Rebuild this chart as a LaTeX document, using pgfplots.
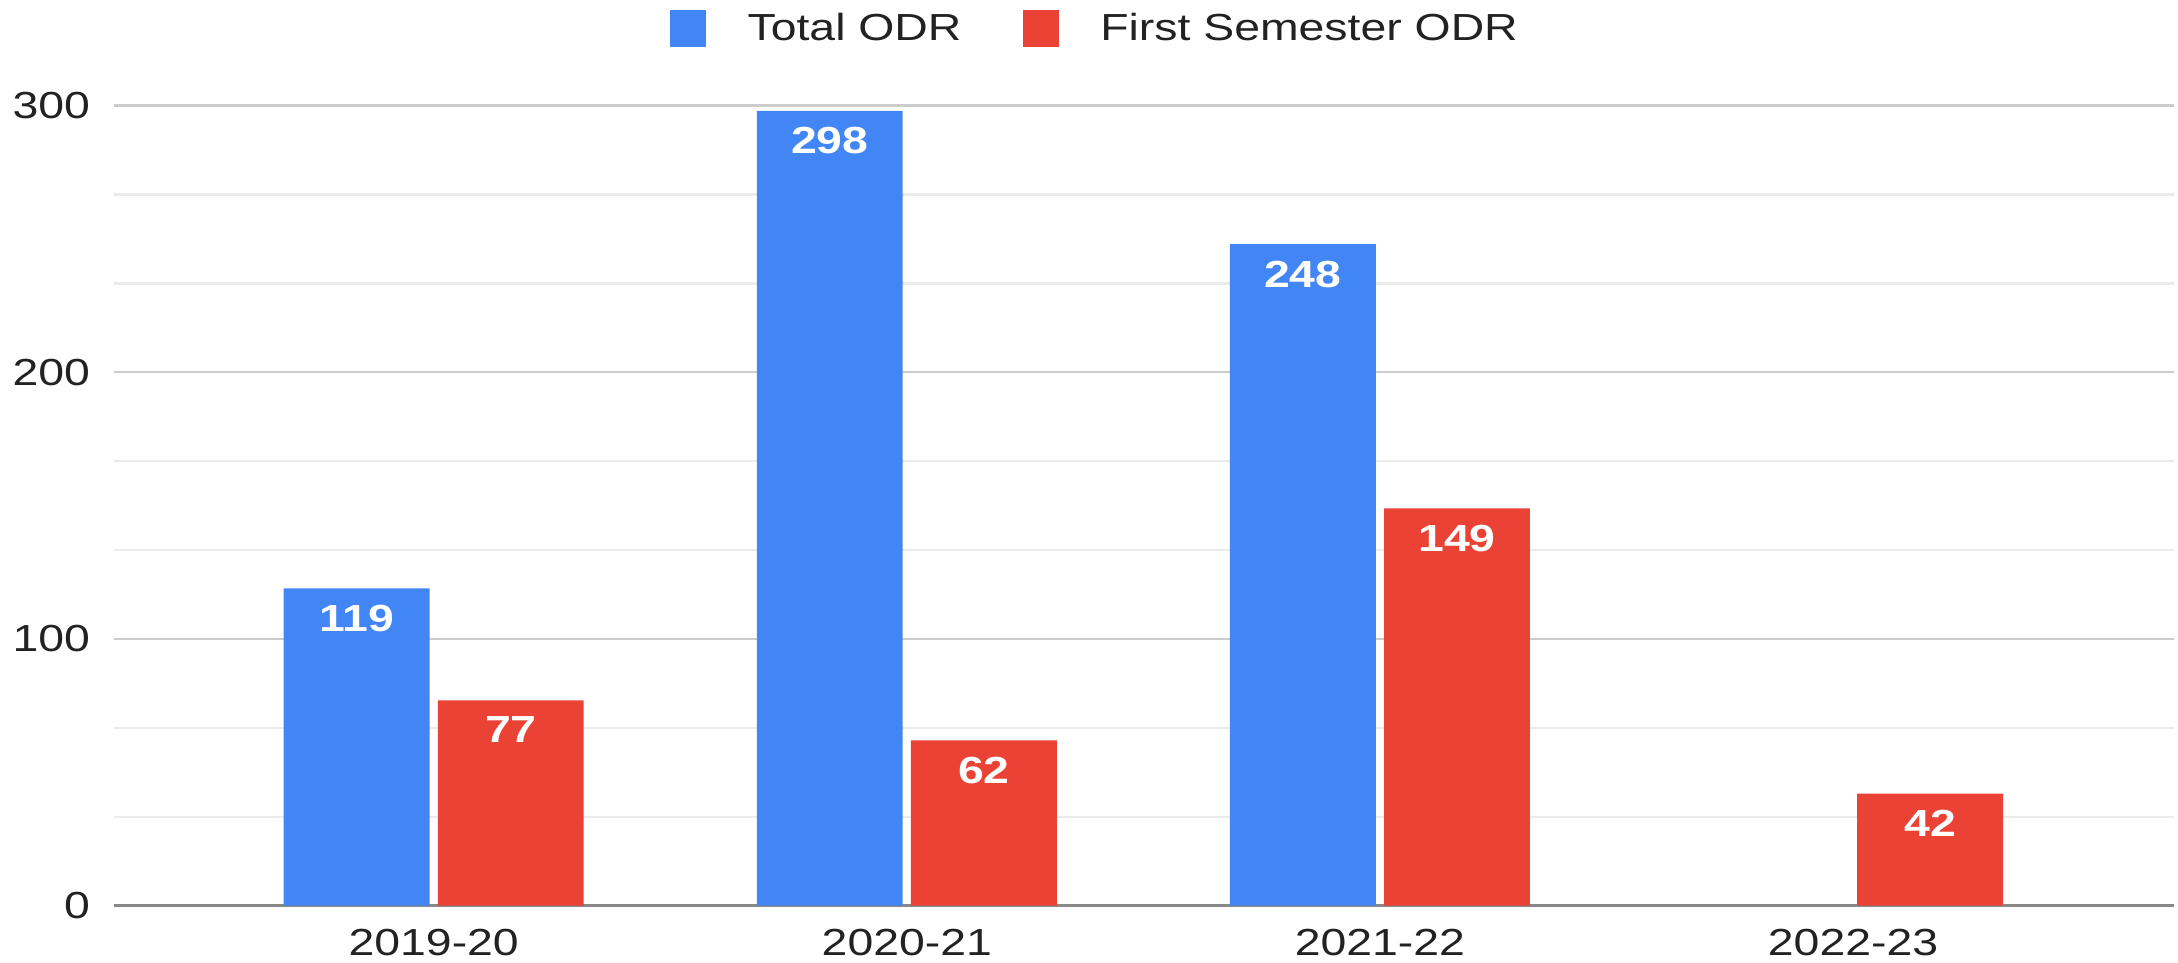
\documentclass[border=0pt]{standalone}
\usepackage{fontspec}
\setmainfont{Liberation Sans}[FakeStretch=1.23]
\usepackage{pgfplots}
\pgfplotsset{compat=1.18}
\definecolor{gblue}{HTML}{4285F4}
\definecolor{gred}{HTML}{EA4335}
\definecolor{majgrid}{HTML}{CCCCCC}
\definecolor{mingrid}{HTML}{EBEBEB}
\definecolor{txt}{HTML}{222222}
\definecolor{base}{HTML}{888888}
\newcommand{\chfont}{\fontsize{19}{23}\selectfont}
\begin{document}
\begin{tikzpicture}
\useasboundingbox (-57.4pt,-28.7pt) rectangle (1040.2pt,456.4pt);
\begin{axis}[
  scale only axis, width=1038.1pt, height=403.2pt,
  xmin=-0.676, xmax=3.678, ymin=0, ymax=300,
  ybar, bar width=73.5pt,
  xtick={0,1,2,3}, xticklabels={2019-20,2020-21,2021-22,2022-23},
  ytick={0,100,200,300}, minor y tick num=2,
  ymajorgrids, yminorgrids,
  major grid style={majgrid, line width=1.2pt},
  minor grid style={mingrid, line width=1.2pt},
  extra y ticks={0}, extra y tick labels={},
  extra y tick style={major grid style={base, line width=1.6pt}},
  axis line style={draw=none},
  major tick length=0pt, minor tick length=0pt,
  /pgf/number format/assume math mode=true,
  ticklabel style={font=\chfont, text=txt},
  xticklabel style={anchor=north, inner sep=0pt, yshift=-11.5pt},
  yticklabel style={anchor=east, inner sep=0pt, xshift=-11.9pt},
  nodes near coords,
  nodes near coords align={anchor=north},
  every node near coord/.append style={font=\chfont\bfseries, text=white, inner sep=0pt, yshift=-8.2pt},
  legend style={at={(0.4757,1.0964)}, anchor=center, draw=none, fill=none,
    font=\chfont, text=txt, inner sep=0pt,
    nodes={inner sep=0pt},
    /tikz/every odd column/.append style={column sep=21pt},
    /tikz/every even column/.append style={column sep=30.8pt}},
  legend columns=2,
]
\addplot[fill=gblue, draw=none, bar shift=-38.85pt,
  legend image code/.code={\fill[gblue] (0pt,-9.45pt) rectangle (18.2pt,9.45pt);}]
  coordinates {(0,119) (1,298) (2,248)};
\addplot[fill=gred, draw=none, bar shift=38.85pt,
  legend image code/.code={\fill[gred] (0pt,-9.45pt) rectangle (18.2pt,9.45pt);}]
  coordinates {(0,77) (1,62) (2,149) (3,42)};
\legend{Total ODR, First Semester ODR}
\end{axis}
\end{tikzpicture}
\end{document}
